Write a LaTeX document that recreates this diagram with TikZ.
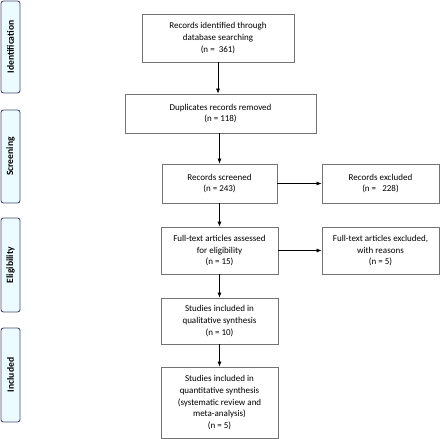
\documentclass[tikz,border=0pt]{standalone}
\usepackage{fontspec}
\setmainfont{Carlito}
\usetikzlibrary{arrows.meta}

\begin{document}
\begin{tikzpicture}[
                x=1pt, y=-1pt,
                font=\fontsize{9}{11.7}\selectfont,
                box/.style={draw=black!55, line width=0.8pt, align=center, inner sep=0pt},
                tab/.style={draw=black!60!blue!40!gray, fill=blue!18!cyan!8, line width=0.9pt,
                    rounded corners=2.5pt, minimum width=19pt, inner sep=0pt, font=\fontsize{9.6}{11}\selectfont\bfseries},
                flow/.style={-{Latex[length=5pt, width=4pt]}, line width=0.6pt} ]

            \useasboundingbox (0,0) rectangle (440,439);

            % phase tabs on the left
            \node[tab, minimum height=92pt] (ident) at (10.5,47) {\rotatebox{90}{Identification}};
            \node[tab, minimum height=93pt] (screen) at (10.5,156.5) {\rotatebox{90}{Screening}};
            \node[tab, minimum height=94pt] (elig) at (10.5,265) {\rotatebox{90}{Eligibility}};
            \node[tab, minimum height=94pt] (incl) at (10.5,375) {\rotatebox{90}{Included}};

            % main column
            \node[box, minimum width=152pt, minimum height=48pt] (found) at (218,38)
                {Records identified through\\ database searching\\ (n =\ \ 361)};
            \node[box, minimum width=191pt, minimum height=39pt] (dupl) at (220.5,113.5)
                {Duplicates records removed\\ (n = 118)};
            \node[box, minimum width=115pt, minimum height=39pt] (screened) at (219.5,183.5)
                {Records screened\\ (n = 243)};
            \node[box, minimum width=117pt, minimum height=47pt] (fulltext) at (219.5,250.5)
                {Full-text articles assessed\\ for eligibility\\ (n = 15)};
            \node[box, minimum width=117pt, minimum height=46pt] (quali) at (219.5,321)
                {Studies included in\\ qualitative synthesis\\ (n = 10)};
            \node[box, minimum width=117pt, minimum height=71pt] (quanti) at (219.5,402.5)
                {Studies included in\\ quantitative synthesis\\ (systematic review and\\ meta-analysis)\\ (n = 5)};

            % exclusions on the right
            \node[box, minimum width=117pt, minimum height=39pt] (excl) at (380.5,183.5)
                {Records excluded\\ (n =\ \ \ 228)};
            \node[box, minimum width=117pt, minimum height=47pt] (fullexcl) at (380.5,250.5)
                {Full-text articles excluded,\\ with reasons\\ (n = 5)};

            \draw[flow] (found.south) -- (found.south |- dupl.north);
            \draw[flow] (dupl.south -| screened) -- (screened.north);
            \draw[flow] (screened) -- (fulltext);
            \draw[flow] (fulltext) -- (quali);
            \draw[flow] (quali) -- (quanti);
            \draw[flow] (screened) -- (excl);
            \draw[flow] (fulltext) -- (fullexcl);
        \end{tikzpicture}
\end{document}
